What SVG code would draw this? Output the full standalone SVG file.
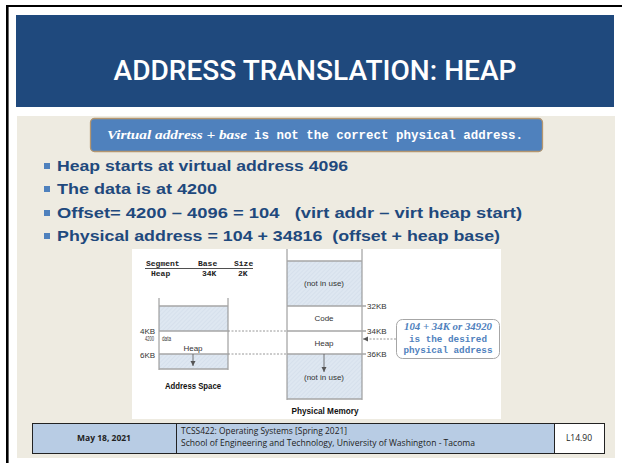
<svg xmlns="http://www.w3.org/2000/svg" width="622" height="463" viewBox="0 0 622 463">
<style>
.bul{font-family:"Liberation Sans",Arial,sans-serif;font-weight:bold;font-size:15px;fill:#1F497D;white-space:pre}
.lbl{font-family:"Liberation Sans",Arial,sans-serif;font-size:8px;fill:#333}
.blbl{font-family:"Liberation Sans",Arial,sans-serif;font-size:8.5px;font-weight:bold;fill:#111}
.mono{font-family:"Liberation Mono","Courier New",monospace;font-weight:bold}
.ser{font-family:"Liberation Serif","Times New Roman",serif;font-style:italic;font-weight:bold}
.gl{stroke:#A6A6A6;stroke-width:1.6;fill:none}
.vl{stroke:#8C8C8C;stroke-width:1;fill:none}
.dash{stroke:#7F7F7F;stroke-width:0.8;stroke-dasharray:2,1.5;fill:none}
.foot{font-family:"Open Sans","Liberation Sans",sans-serif;font-size:8.5px;fill:#222}
</style>
<defs>
<pattern id="hatch" patternUnits="userSpaceOnUse" width="3" height="3" patternTransform="rotate(45)">
<rect width="3" height="3" fill="#DEE7F1"/>
<line x1="0" y1="0" x2="0" y2="3" stroke="#CFDAE7" stroke-width="1"/>
</pattern>
<marker id="ah" markerWidth="6" markerHeight="6" refX="5" refY="3" orient="auto" markerUnits="userSpaceOnUse">
<path d="M0,0.5 L5,3 L0,5.5 Z" fill="#555"/>
</marker>
</defs>
<rect width="622" height="463" fill="#FFFFFF"/>
<line x1="6" y1="6" x2="622" y2="6" stroke="#000" stroke-width="2"/>
<line x1="7.3" y1="5" x2="7.3" y2="463" stroke="#000" stroke-width="2.6"/>
<g id="title">
<rect x="16" y="15" width="598" height="92" fill="#1F497D"/>
<text x="315" y="80" text-anchor="middle" font-family="Roboto,'Liberation Sans',sans-serif" font-weight="500" font-size="27" fill="#FFFFFF" textLength="403" lengthAdjust="spacingAndGlyphs">ADDRESS TRANSLATION: HEAP</text>
</g>
<rect x="17" y="116" width="598" height="342" fill="#EEEBE1"/>
<g id="note">
<rect x="90.5" y="118.5" width="452" height="33" rx="4" fill="#4F81BD" stroke="#B49670" stroke-width="1.3"/>
<text x="107" y="139" class="ser" font-size="12" fill="#FFFFFF" textLength="140" lengthAdjust="spacingAndGlyphs">Virtual address + base</text>
<text x="254" y="139" class="mono" font-size="12" fill="#FFFFFF" textLength="269" lengthAdjust="spacingAndGlyphs">is not the correct physical address.</text>
</g>
<g id="bullets">
<rect x="44" y="163" width="6" height="6" fill="#4F81BD"/>
<rect x="44" y="186" width="6" height="6" fill="#4F81BD"/>
<rect x="44" y="210" width="6" height="6" fill="#4F81BD"/>
<rect x="44" y="233" width="6" height="6" fill="#4F81BD"/>
<text x="57" y="171" class="bul" textLength="291" lengthAdjust="spacingAndGlyphs">Heap starts at virtual address 4096</text>
<text x="57" y="194" class="bul" textLength="160" lengthAdjust="spacingAndGlyphs">The data is at 4200</text>
<text x="57" y="218" class="bul" textLength="465" lengthAdjust="spacingAndGlyphs">Offset= 4200 – 4096 = 104   (virt addr – virt heap start)</text>
<text x="57" y="241" class="bul" textLength="443" lengthAdjust="spacingAndGlyphs">Physical address = 104 + 34816  (offset + heap base)</text>
</g>
<rect x="132" y="249" width="369" height="170" fill="#FFFFFF"/>
<g id="segtable">
<text x="146" y="266" class="mono" font-size="8" fill="#222">Segment</text>
<text x="198" y="266" class="mono" font-size="8" fill="#222">Base</text>
<text x="234" y="266" class="mono" font-size="8" fill="#222">Size</text>
<line x1="145" y1="268.5" x2="253" y2="268.5" stroke="#222" stroke-width="0.8"/>
<text x="151" y="276" class="mono" font-size="8" fill="#222">Heap</text>
<text x="202" y="276" class="mono" font-size="8" fill="#222">34K</text>
<text x="238" y="276" class="mono" font-size="8" fill="#222">2K</text>
</g>
<g id="addrspace">
<rect x="159" y="306" width="69" height="25" fill="url(#hatch)"/>
<rect x="159" y="354" width="69" height="15" fill="url(#hatch)"/>
<line x1="159" y1="298" x2="159" y2="370" class="vl"/>
<line x1="228" y1="298" x2="228" y2="370" class="vl"/>
<line x1="159" y1="306" x2="228" y2="306" class="gl"/>
<line x1="159" y1="331" x2="228" y2="331" class="gl"/>
<line x1="159" y1="354" x2="228" y2="354" class="gl"/>
<line x1="159" y1="369" x2="228" y2="369" class="gl"/>
<text x="140" y="333.5" class="lbl">4KB</text>
<text x="145" y="341" class="lbl" font-size="4.5" fill="#666" textLength="9" lengthAdjust="spacingAndGlyphs">4200</text>
<text x="162" y="341" class="lbl" font-size="4.5" fill="#666" textLength="9" lengthAdjust="spacingAndGlyphs">data</text>
<text x="193" y="351" class="lbl" font-size="8.5" text-anchor="middle">Heap</text>
<text x="140" y="358" class="lbl">6KB</text>
<text x="193" y="389" class="blbl" text-anchor="middle" textLength="56" lengthAdjust="spacingAndGlyphs">Address Space</text>
</g>
<g id="physmem">
<rect x="287" y="261" width="75" height="45" fill="url(#hatch)"/>
<rect x="287" y="354" width="75" height="45" fill="url(#hatch)"/>
<line x1="287" y1="249" x2="287" y2="400" class="vl"/>
<line x1="362" y1="249" x2="362" y2="400" class="vl"/>
<line x1="287" y1="261" x2="362" y2="261" class="gl"/>
<line x1="287" y1="306" x2="366" y2="306" class="gl"/>
<line x1="287" y1="331" x2="366" y2="331" class="gl"/>
<line x1="287" y1="354" x2="366" y2="354" class="gl"/>
<line x1="287" y1="399" x2="362" y2="399" class="gl"/>
<text x="324" y="286" class="lbl" text-anchor="middle">(not in use)</text>
<text x="324" y="321" class="lbl" text-anchor="middle">Code</text>
<text x="324" y="346" class="lbl" text-anchor="middle">Heap</text>
<text x="324" y="380" class="lbl" text-anchor="middle">(not in use)</text>
<text x="367" y="309" class="lbl">32KB</text>
<text x="367" y="334" class="lbl">34KB</text>
<text x="367" y="357" class="lbl">36KB</text>
<text x="325" y="414" class="blbl" text-anchor="middle" textLength="67" lengthAdjust="spacingAndGlyphs">Physical Memory</text>
</g>
<g id="answer">
<rect x="396.5" y="319.5" width="103" height="39" rx="6" fill="#FFFFFF" stroke="#A6A6A6" stroke-width="1"/>
<text x="448" y="330" class="ser" font-size="9.5" fill="#4F81BD" text-anchor="middle" textLength="88" lengthAdjust="spacingAndGlyphs">104 + 34K or 34920</text>
<text x="448" y="342" class="mono" font-size="9.3" fill="#4F81BD" text-anchor="middle" textLength="78" lengthAdjust="spacingAndGlyphs">is the desired</text>
<text x="448" y="353" class="mono" font-size="9.3" fill="#4F81BD" text-anchor="middle" textLength="89" lengthAdjust="spacingAndGlyphs">physical address</text>
</g>
<g id="connectors">
<line x1="228" y1="331" x2="287" y2="331" class="dash"/>
<line x1="228" y1="354" x2="287" y2="354" class="dash"/>
<line x1="396" y1="339" x2="363" y2="339" class="dash" marker-end="url(#ah)"/>
<line x1="193" y1="354" x2="193" y2="366" stroke="#555" stroke-width="0.8" marker-end="url(#ah)"/>
<line x1="324" y1="354" x2="324" y2="372" stroke="#555" stroke-width="0.8" marker-end="url(#ah)"/>
</g>
<g id="footer">
<rect x="32.5" y="423.5" width="144" height="30" fill="#B8CCE4" stroke="#222" stroke-width="1"/>
<rect x="176.5" y="423.5" width="378" height="30" fill="#B8CCE4" stroke="#222" stroke-width="1"/>
<rect x="554.5" y="423.5" width="50" height="30" fill="#FFFFFF" stroke="#222" stroke-width="1"/>
<text x="104" y="441" class="foot" font-weight="bold" text-anchor="middle">May 18, 2021</text>
<text x="181" y="434" class="foot" textLength="166" lengthAdjust="spacingAndGlyphs">TCSS422: Operating Systems [Spring 2021]</text>
<text x="181" y="446" class="foot" textLength="294" lengthAdjust="spacingAndGlyphs">School of Engineering and Technology, University of Washington - Tacoma</text>
<text x="579" y="441" class="foot" font-size="8" text-anchor="middle">L14.90</text>
</g>
</svg>
